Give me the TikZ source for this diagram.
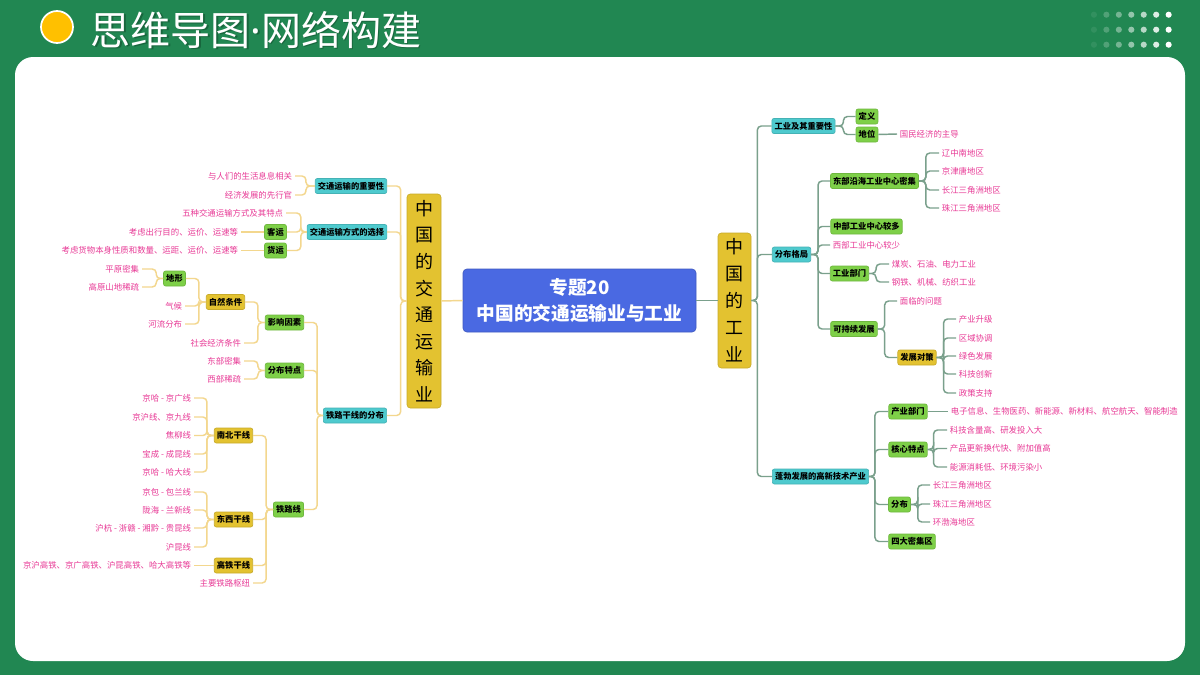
\documentclass[tikz,border=0pt]{standalone}
\usepackage{fontspec}
\setmainfont{Noto Sans CJK SC}
\newfontfamily\latinfont{Noto Sans}
\definecolor{bggreen}{RGB}{33,135,82}
\definecolor{titleshadow}{RGB}{18,80,48}
\definecolor{sunyellow}{RGB}{255,192,0}
\definecolor{cyanbox}{RGB}{78,202,206}
\definecolor{greenbox}{RGB}{126,208,72}
\definecolor{goldbox}{RGB}{227,194,48}
\definecolor{bluebox}{RGB}{74,105,226}
\definecolor{pinktxt}{RGB}{232,58,150}
\definecolor{lcol}{RGB}{243,215,142}
\definecolor{rcol}{RGB}{122,160,140}
\tikzset{
  box/.style={rounded corners=1.5pt, inner xsep=2pt, inner ysep=0pt, minimum height=11.25pt,
    font=\fontsize{6.2}{7}\selectfont\bfseries, text=black, line width=0.5pt},
  cbox/.style={box, fill=cyanbox, draw=cyanbox!88!black},
  gbox/.style={box, fill=greenbox, draw=greenbox!88!black},
  ybox/.style={box, fill=goldbox, draw=goldbox!88!black},
  leaf/.style={text=pinktxt, font=\fontsize{6.3}{7}\selectfont, inner xsep=2pt, inner ysep=1pt},
  lleaf/.style={leaf, anchor=east},
  rleaf/.style={leaf, anchor=west},
  lline/.style={draw=lcol, line width=1.1pt, rounded corners=3pt},
  rline/.style={draw=rcol, line width=1.1pt, rounded corners=3pt},
  mainv/.style={fill=goldbox, draw=goldbox!88!black, line width=0.5pt, rounded corners=2.5pt,
    inner sep=0pt, align=center, text=black},
}
\begin{document}
\begin{tikzpicture}[x=0.75pt,y=-0.75pt]
\useasboundingbox (0,0) rectangle (1200,675);
\fill[bggreen] (0,0) rectangle (1200,675);
\fill[white, rounded corners=13.5pt] (15,57) rectangle (1185,661);
% title
\node[circle, fill=sunyellow, draw=white, line width=1.3pt, minimum size=24pt, inner sep=0pt] (sun) at (57,27) {};
\node[anchor=west, text=titleshadow, opacity=0.6, font=\fontsize{30}{30}\selectfont] at (87.5,31.5) {思维导图{\latinfont·}网络构建};
\node[anchor=west, text=white, font=\fontsize{30}{30}\selectfont] (title) at (86,30) {思维导图{\latinfont·}网络构建};
% dots
\foreach \c [count=\i] in {0.08,0.22,0.38,0.52,0.68,0.85,1.0} {
  \foreach \r in {14.7,29.7,44.7} {
    \fill[white, opacity=\c] ({1081.5+12.45*\i},\r) circle (2.3pt);
  }
}
% central
\node[fill=bluebox, draw=bluebox!85!black, line width=0.5pt, rounded corners=3pt, minimum width=174.75pt,
  minimum height=47.25pt, align=center, text=white, font=\fontsize{14}{19.5}\selectfont\bfseries] (C) at (579.5,300.5)
  {专题20\\中国的交通运输业与工业};
\node[mainv, minimum width=25.5pt, minimum height=160.5pt, font=\fontsize{13.5}{19.9}\selectfont] (L) at (424,301)
  {中\\国\\的\\交\\通\\运\\输\\业};
\node[mainv, minimum width=24.75pt, minimum height=101.25pt, font=\fontsize{13.5}{20.25}\selectfont] (R) at (734.5,300.5)
  {中\\国\\的\\工\\业};
\draw[lline] (C.west) -- (L.east);
\draw[rline] (C.east) -- (R.west);

% ================= LEFT =================
\node[cbox] (L1) at (351,186) {交通运输的重要性};
\node[cbox] (L2) at (347,232) {交通运输方式的选择};
\node[cbox] (L3) at (355,415.5) {铁路干线的分布};
\foreach \n in {L1,L2,L3} \draw[lline] (L.west) -- ++(-6,0) |- (\n.east);

\node[lleaf] (L1a) at (295,176) {与人们的生活息息相关};
\node[lleaf] (L1b) at (295,195) {经济发展的先行官};
\foreach \n in {L1a,L1b} \draw[lline] (L1.west) -- ++(-9,0) |- (\n.east);

\node[lleaf] (L2a) at (286,213) {五种交通运输方式及其特点};
\node[gbox] (L2b) at (275.5,232) {客运};
\node[gbox] (L2c) at (275.5,250.5) {货运};
\foreach \n in {L2a,L2b,L2c} \draw[lline] (L2.west) -- ++(-6,0) |- (\n.east);
\node[lleaf] (L2b1) at (241,232) {考虑出行目的、运价、运速等};
\node[lleaf] (L2c1) at (241,250.5) {考虑货物本身性质和数量、运距、运价、运速等};
\draw[lline] (L2b.west) -- (L2b1.east);
\draw[lline] (L2c.west) -- (L2c1.east);

\node[gbox] (L31) at (284.5,322.5) {影响因素};
\node[gbox] (L32) at (284.5,370.5) {分布特点};
\node[gbox] (L33) at (288.5,509.5) {铁路线};
\foreach \n in {L31,L32,L33} \draw[lline] (L3.west) -- ++(-6,0) |- (\n.east);

\node[ybox] (L311) at (225.5,302) {自然条件};
\node[lleaf] (L312) at (244,343) {社会经济条件};
\foreach \n in {L311,L312} \draw[lline] (L31.west) -- ++(-7,0) |- (\n.east);

\node[gbox] (L3111) at (174.5,278.5) {地形};
\node[lleaf] (L3112) at (185,306) {气候};
\node[lleaf] (L3113) at (185,324) {河流分布};
\foreach \n in {L3111,L3112,L3113} \draw[lline] (L311.west) -- ++(-7,0) |- (\n.east);
\node[lleaf] (La1) at (142,269) {平原密集};
\node[lleaf] (La2) at (142,287) {高原山地稀疏};
\foreach \n in {La1,La2} \draw[lline] (L3111.west) -- ++(-7,0) |- (\n.east);

\node[lleaf] (L321) at (244,361) {东部密集};
\node[lleaf] (L322) at (244,379) {西部稀疏};
\foreach \n in {L321,L322} \draw[lline] (L32.west) -- ++(-7,0) |- (\n.east);

\node[ybox] (NS) at (233.5,435.5) {南北干线};
\node[ybox] (EW) at (233.5,519.5) {东西干线};
\node[ybox] (HS) at (233.5,565.5) {高铁干线};
\node[lleaf] (HUB) at (253,583) {主要铁路枢纽};
\foreach \n in {NS,EW,HS,HUB} \draw[lline] (L33.west) -- ++(-7,0) |- (\n.east);

\node[lleaf] (NS1) at (194,398) {京哈 - 京广线};
\node[lleaf] (NS2) at (194,417) {京沪线、京九线};
\node[lleaf] (NS3) at (194,435.5) {焦柳线};
\node[lleaf] (NS4) at (194,454) {宝成 - 成昆线};
\node[lleaf] (NS5) at (194,472) {京哈 - 哈大线};
\foreach \n in {NS1,NS2,NS3,NS4,NS5} \draw[lline] (NS.west) -- ++(-7,0) |- (\n.east);

\node[lleaf] (EW1) at (194,492) {京包 - 包兰线};
\node[lleaf] (EW2) at (194,510) {陇海 - 兰新线};
\node[lleaf] (EW3) at (194,528) {沪杭 - 浙赣 - 湘黔 - 贵昆线};
\node[lleaf] (EW4) at (194,547) {沪昆线};
\foreach \n in {EW1,EW2,EW3,EW4} \draw[lline] (EW.west) -- ++(-7,0) |- (\n.east);

\node[lleaf] (HS1) at (194,565.5) {京沪高铁、京广高铁、沪昆高铁、哈大高铁等};
\draw[lline] (HS.west) -- (HS1.east);

% ================= RIGHT =================
\node[cbox] (R1) at (803.5,126) {工业及其重要性};
\node[cbox] (R2) at (791.5,254.5) {分布格局};
\node[cbox] (R3) at (820.5,476.5) {蓬勃发展的高新技术产业};
\foreach \n in {R1,R2,R3} \draw[rline] (R.east) -- ++(6,0) |- (\n.west);

\node[gbox] (R11) at (867,116.5) {定义};
\node[gbox] (R12) at (867,134.5) {地位};
\foreach \n in {R11,R12} \draw[rline] (R1.east) -- ++(8,0) |- (\n.west);
\node[rleaf] (R121) at (897,134) {国民经济的主导};
\draw[rline] (R12.east) -- (R121.west);

\node[gbox] (R21) at (874.5,181) {东部沿海工业中心密集};
\node[gbox] (R22) at (866.5,226.5) {中部工业中心较多};
\node[rleaf] (R23) at (830,245) {西部工业中心较少};
\node[gbox] (R24) at (849.5,273.5) {工业部门};
\node[gbox] (R25) at (854,329) {可持续发展};
\foreach \n in {R21,R22,R23,R24,R25} \draw[rline] (R2.east) -- ++(7,0) |- (\n.west);

\node[rleaf] (R211) at (939,153) {辽中南地区};
\node[rleaf] (R212) at (939,171) {京津唐地区};
\node[rleaf] (R213) at (939,190) {长江三角洲地区};
\node[rleaf] (R214) at (939,208) {珠江三角洲地区};
\foreach \n in {R211,R212,R213,R214} \draw[rline] (R21.east) -- ++(7,0) |- (\n.west);

\node[rleaf] (R241) at (889,264) {煤炭、石油、电力工业};
\node[rleaf] (R242) at (889,282) {钢铁、机械、纺织工业};
\foreach \n in {R241,R242} \draw[rline] (R24.east) -- ++(7,0) |- (\n.west);

\node[rleaf] (R251) at (897,301) {面临的问题};
\node[ybox] (R252) at (917,357.5) {发展对策};
\foreach \n in {R251,R252} \draw[rline] (R25.east) -- ++(7,0) |- (\n.west);

\node[rleaf] (P1) at (956,319) {产业升级};
\node[rleaf] (P2) at (956,338) {区域协调};
\node[rleaf] (P3) at (956,356) {绿色发展};
\node[rleaf] (P4) at (956,374) {科技创新};
\node[rleaf] (P5) at (956,393) {政策支持};
\foreach \n in {P1,P2,P3,P4,P5} \draw[rline] (R252.east) -- ++(7,0) |- (\n.west);

\node[gbox] (R31) at (908,411.5) {产业部门};
\node[gbox] (R32) at (908,449.5) {核心特点};
\node[gbox] (R33) at (899.5,504.5) {分布};
\node[gbox] (R34) at (912,541.5) {四大密集区};
\foreach \n in {R31,R32,R33,R34} \draw[rline] (R3.east) -- ++(6,0) |- (\n.west);

\node[rleaf] (R311) at (948,411.5) {电子信息、生物医药、新能源、新材料、航空航天、智能制造};
\draw[rline] (R31.east) -- (R311.west);

\node[rleaf] (R321) at (947,430) {科技含量高、研发投入大};
\node[rleaf] (R322) at (947,448.5) {产品更新换代快、附加值高};
\node[rleaf] (R323) at (947,467) {能源消耗低、环境污染小};
\foreach \n in {R321,R322,R323} \draw[rline] (R32.east) -- ++(6,0) |- (\n.west);

\node[rleaf] (R331) at (930,485) {长江三角洲地区};
\node[rleaf] (R332) at (930,504) {珠江三角洲地区};
\node[rleaf] (R333) at (930,522) {环渤海地区};
\foreach \n in {R331,R332,R333} \draw[rline] (R33.east) -- ++(7,0) |- (\n.west);
\end{tikzpicture}
\end{document}
